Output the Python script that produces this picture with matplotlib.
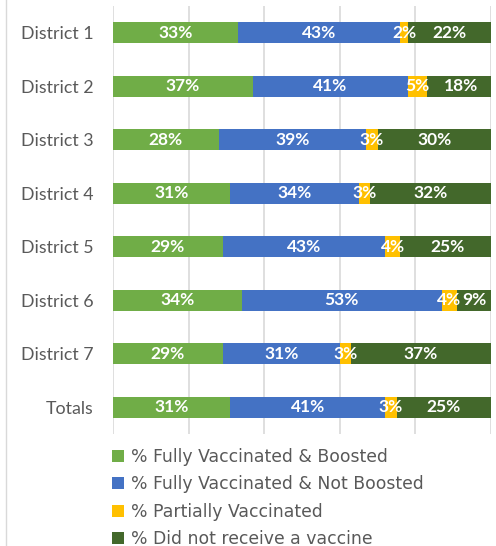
import matplotlib
matplotlib.use("Agg")
import matplotlib.pyplot as plt
from matplotlib.patches import Patch
from matplotlib.lines import Line2D

categories = ["District 1", "District 2", "District 3", "District 4",
              "District 5", "District 6", "District 7", "Totals"]
series_names = ["% Fully Vaccinated & Boosted",
                "% Fully Vaccinated & Not Boosted",
                "% Partially Vaccinated",
                "% Did not receive a vaccine"]
boosted     = [33, 37, 28, 31, 29, 34, 29, 31]
not_boosted = [43, 41, 39, 34, 43, 53, 31, 41]
partial     = [2, 5, 3, 3, 4, 4, 3, 3]
none_       = [22, 18, 30, 32, 25, 9, 37, 25]
colors = ["#70AD47", "#4472C4", "#FFC000", "#43682B"]

plt.rcParams['font.family'] = ['Lato', 'DejaVu Sans']

fig = plt.figure(figsize=(4.96, 5.46), dpi=100)
ax = fig.add_axes([113/496, 1-434/546, 378/496, 428/546])

y = list(range(len(categories)))
left = [0.0]*len(categories)
for vals, col in zip([boosted, not_boosted, partial, none_], colors):
    w = [v/100 for v in vals]
    ax.barh(y, w, left=left, height=0.4, color=col, zorder=2)
    for yi, li, wi, v in zip(y, left, w, vals):
        ax.text(li + wi/2, yi, f"{v}%", ha='center', va='center', color='white',
                fontsize=12.5, fontweight='bold', zorder=3)
    left = [a+b for a, b in zip(left, w)]

ax.set_xlim(0, 1)
ax.set_ylim(len(categories)-0.5, -0.5)
ax.set_xticks([0, 0.2, 0.4, 0.6, 0.8, 1.0])
ax.xaxis.grid(True, color='#D9D9D9', linewidth=1.2, zorder=0)
ax.tick_params(axis='x', bottom=False, labelbottom=False)
ax.set_yticks(y)
ax.set_yticklabels(categories, fontsize=12.8, color='#595959')
ax.tick_params(axis='y', left=False, pad=10.5)
for s in ax.spines.values():
    s.set_visible(False)

fig.add_artist(Line2D([6/496, 6/496], [0, 1], color='#D9D9D9', linewidth=1, transform=fig.transFigure))

handles = [Patch(facecolor=c) for c in colors]
leg = fig.legend(handles, series_names, loc='upper left', bbox_to_anchor=(112/496, 1-448/546),
           frameon=False, handlelength=0.7, handleheight=0.7,
           handletextpad=0.4, labelspacing=0.55, labelcolor='#595959', borderpad=0,
           borderaxespad=0, prop={'family': ['DejaVu Sans'], 'size': 12.4})

fig.savefig("out.png", dpi=100)
